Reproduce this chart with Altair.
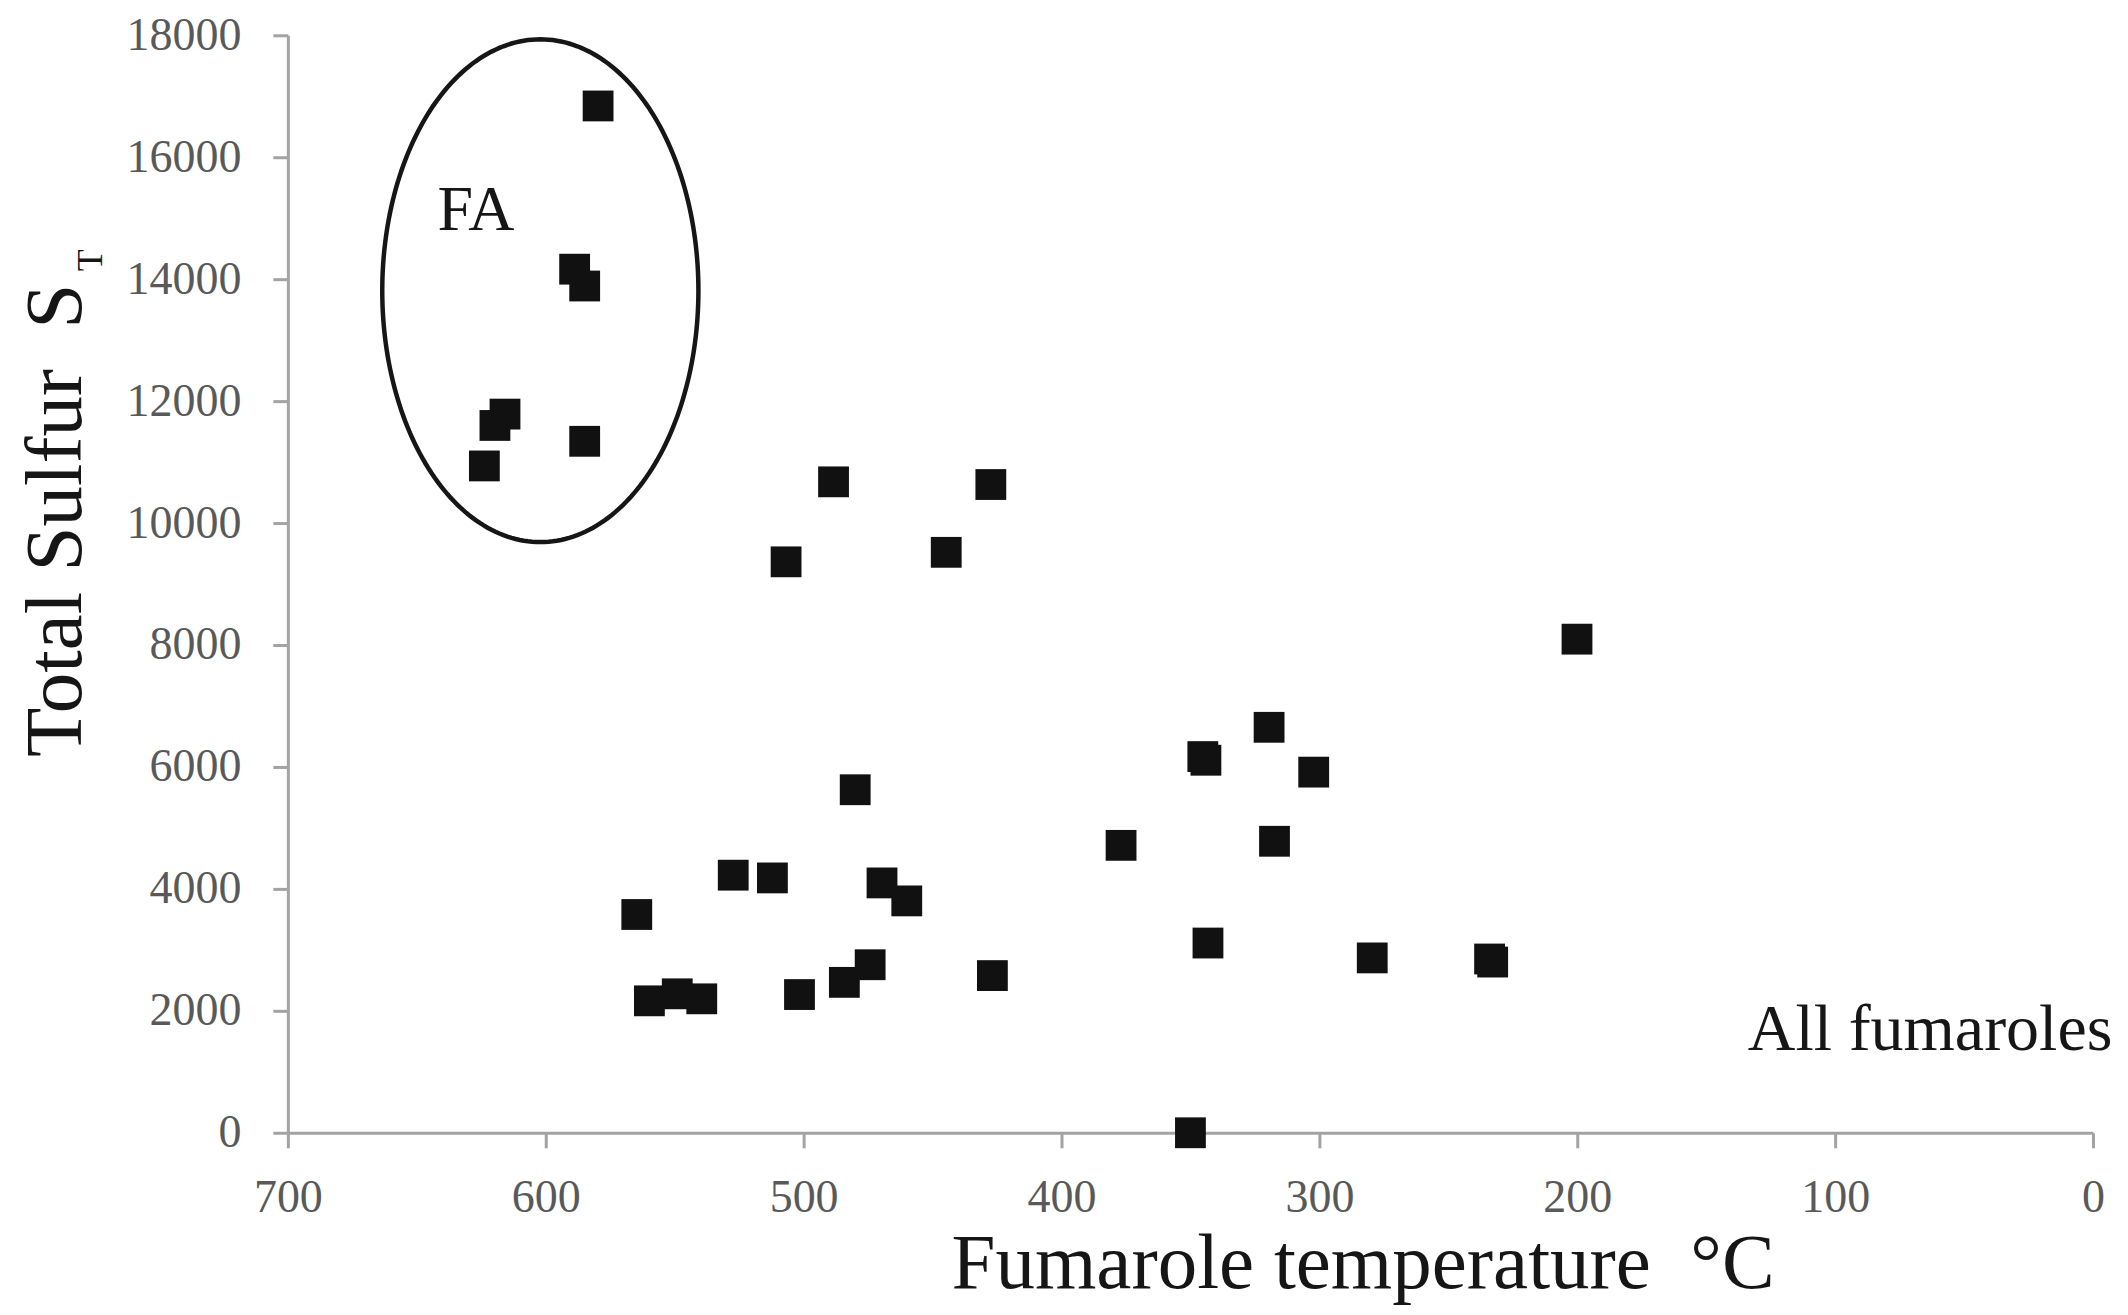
import altair as alt
import numpy as np
import pandas as pd

# ---- data ----
temperature = [579.7, 588.8, 584.9, 615.8, 619.7, 584.9, 623.8,
               488.4, 427.4, 506.8, 444.7, 200.1, 319.5, 345.2, 344.0,
               302.2, 480.0, 376.9, 317.4, 527.3, 512.1, 469.6, 460.0,
               564.7, 343.2, 279.5, 234.0, 232.8, 474.2, 484.2, 426.8,
               501.6, 559.8, 549.0, 539.5, 350.0]
total_sulfur = [16841, 14164, 13888, 11787, 11601, 11341, 10937,
                10676, 10632, 9364, 9520, 8096, 6650, 6170, 6110,
                5915, 5626, 4714, 4781, 4225, 4180, 4098, 3803,
                3580, 3112, 2868, 2850, 2800, 2756, 2467, 2578,
                2267, 2164, 2279, 2197, 0]

x_ticks = [0, 100, 200, 300, 400, 500, 600, 700]
y_ticks = [0, 2000, 4000, 6000, 8000, 10000, 12000, 14000, 16000, 18000]

# FA ellipse annotation (centre and semi-axes in data units)
ell_center_t, ell_center_s = 602.1, 13811
ell_rx, ell_ry = 61.3, 4123

# text annotations (data positions)
fa_label = {"t": 642, "s": 14803, "txt": "FA"}
all_label = {"t": -7.5, "s": 1361, "txt": "All fumaroles"}

FONT = "Liberation Serif"
LABEL_GREY = "#595959"
AXIS_GREY = "#a3a3a3"
INK = "#161616"

df = pd.DataFrame({"t": temperature, "s": total_sulfur})

ang = np.linspace(0, 2 * np.pi, 241)
ell = pd.DataFrame({
    "t": ell_center_t + ell_rx * np.cos(ang),
    "s": ell_center_s + ell_ry * np.sin(ang),
    "i": np.arange(len(ang)),
})

xscale = alt.Scale(domain=[0, 700], reverse=True, nice=False, zero=False)
yscale = alt.Scale(domain=[0, 18000], nice=False)

xaxis = alt.Axis(values=x_ticks, format="d", title=None, grid=False,
                 labelFont=FONT, labelFontSize=46, labelColor=LABEL_GREY,
                 domainColor=AXIS_GREY, domainWidth=3, tickColor=AXIS_GREY,
                 tickWidth=3, tickSize=15, labelPadding=28, labelFlush=False,
                 labelOverlap=False)
yaxis = alt.Axis(values=y_ticks, format="d", title=None, grid=False,
                 labelFont=FONT, labelFontSize=46, labelColor=LABEL_GREY,
                 domainColor=AXIS_GREY, domainWidth=3, tickColor=AXIS_GREY,
                 tickWidth=3, tickSize=15, labelPadding=32, labelFlush=False,
                 labelOverlap=False)

ellipse = alt.Chart(ell).mark_line(color=INK, strokeWidth=4.5).encode(
    x=alt.X("t:Q", scale=xscale, axis=xaxis),
    y=alt.Y("s:Q", scale=yscale, axis=yaxis),
    order="i:Q",
)

points = alt.Chart(df).mark_square(size=950, color="#111111", opacity=1).encode(
    x=alt.X("t:Q", scale=xscale),
    y=alt.Y("s:Q", scale=yscale),
)

fa = alt.Chart(pd.DataFrame([fa_label])).mark_text(
    font=FONT, fontSize=64, color=INK, align="left", baseline="alphabetic"
).encode(x=alt.X("t:Q", scale=xscale), y=alt.Y("s:Q", scale=yscale), text="txt:N")

allf = alt.Chart(pd.DataFrame([all_label])).mark_text(
    font=FONT, fontSize=66, color=INK, align="right", baseline="alphabetic"
).encode(x=alt.X("t:Q", scale=xscale), y=alt.Y("s:Q", scale=yscale), text="txt:N")

one = pd.DataFrame({"k": [0]})
ytitle = alt.Chart(one).mark_text(
    font=FONT, fontSize=81, color=INK, angle=270, align="left",
    baseline="alphabetic", text="Total Sulfur\u00a0 S"
).encode(x=alt.value(-207), y=alt.value(722))
ysub = alt.Chart(one).mark_text(
    font=FONT, fontSize=36, color=INK, angle=270, align="left",
    baseline="alphabetic", text="T"
).encode(x=alt.value(-186), y=alt.value(236))
xtitle = alt.Chart(one).mark_text(
    font=FONT, fontSize=79, color=INK, align="left",
    baseline="alphabetic", text="Fumarole temperature\u00a0 \u00b0C"
).encode(x=alt.value(664), y=alt.value(1253))

chart = alt.layer(ellipse, points, fa, allf, ytitle, ysub, xtitle).properties(
    width=1806, height=1098,
    autosize=alt.AutoSizeParams(type="none"),
    padding={"left": 280, "top": 27, "right": 27, "bottom": 173},
    background="white",
).configure_view(strokeWidth=0)

chart.save("out.html", embed_options={"renderer": "svg", "actions": False})
